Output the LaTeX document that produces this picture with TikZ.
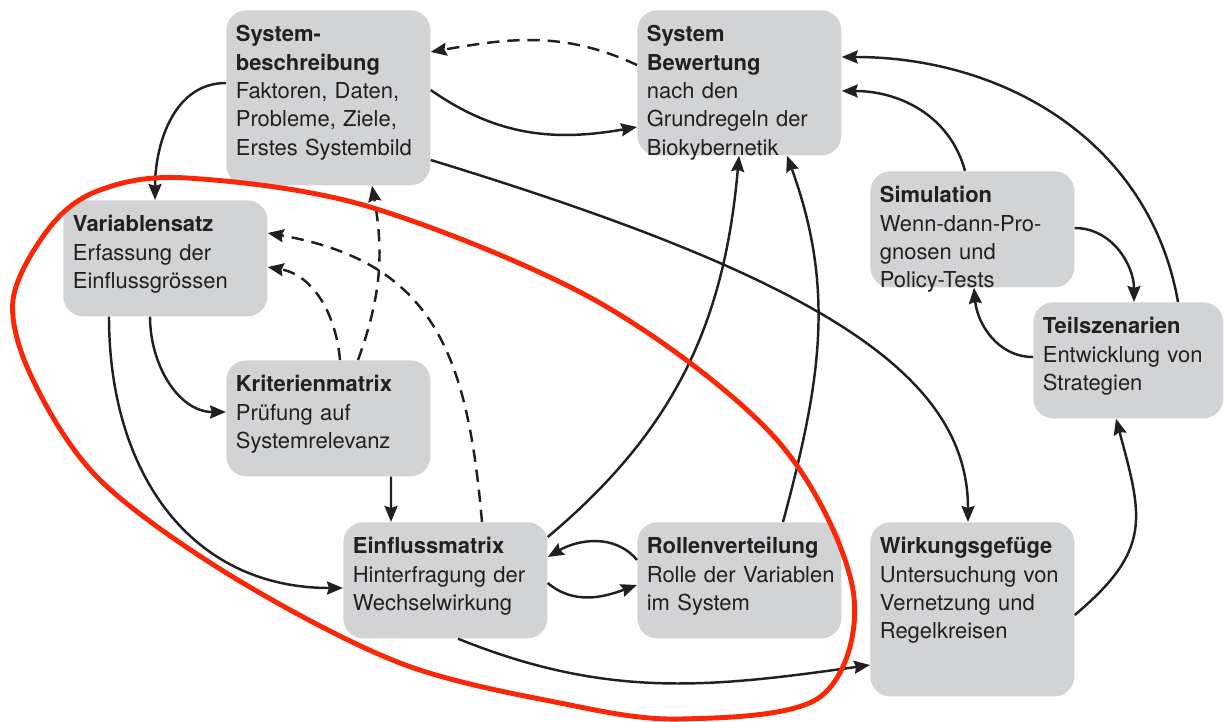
\documentclass[tikz,border=0pt]{standalone}
\usepackage{fontspec}
\setmainfont{TeX Gyre Heros}
\usetikzlibrary{arrows.meta}
\definecolor{boxgray}{RGB}{210,211,213}
\definecolor{ink}{RGB}{35,31,32}
\definecolor{ringred}{RGB}{250,38,8}
\hyphenpenalty=10000
\exhyphenpenalty=10000
\tikzset{
  stage/.style={fill=boxgray, rounded corners=0.4cm, anchor=north west, text width=3.7cm,
    inner xsep=0.19cm, inner ysep=0.3cm, text height=0.33cm, align=left, text=ink,
    font=\fontsize{12.5}{16.1}\selectfont},
  flow/.style={draw=ink, line width=1.4pt, -{Stealth[length=3.2mm,width=2.6mm,inset=0.4mm]}},
  hint/.style={flow, dash pattern=on 7pt off 4.5pt}
}

\begin{document}
\begin{tikzpicture}
        \useasboundingbox (0,0) rectangle (24.48,-14.44);

        % Top row
        \node[stage, text depth=2.57cm] (sb) at (4.52,-0.2) {\textbf{System-}\\\textbf{beschreibung}\\Faktoren, Daten,\\Probleme, Ziele,\\Erstes~Systembild};
        \node[stage, text depth=1.97cm] (bew) at (12.74,-0.2) {\textbf{System}\\\textbf{Bewertung}\\nach den\\Grundregeln~der\\Biokybernetik};
        \node[stage, text depth=1.39cm] (vs) at (1.26,-4.0) {\textbf{Variablensatz}\\Erfassung der\\Einflussgrössen};
        \node[stage, text depth=1.39cm] (sim) at (17.4,-3.42) {\textbf{Simulation}\\Wenn-dann-Pro-\\gnosen und\\Policy-Tests};
        \node[stage, text depth=1.39cm, text width=3.42cm] (ts) at (20.66,-6.04) {\textbf{Teilszenarien}\\Entwicklung~von\\Strategien};

        % Middle and bottom row
        \node[stage, text depth=1.39cm] (km) at (4.52,-7.2) {\textbf{Kriterienmatrix}\\Prüfung auf\\Systemrelevanz};
        \node[stage, text depth=1.39cm] (em) at (6.86,-10.44) {\textbf{Einflussmatrix}\\Hinterfragung~der\\Wechselwirkung};
        \node[stage, text depth=1.39cm] (rv) at (12.74,-10.44) {\textbf{Rollenverteilung}\\Rolle~der~Variablen\\im System};
        \node[stage, text depth=2.55cm] (wg) at (17.4,-10.44) {\textbf{Wirkungsgefüge}\\Untersuchung~von\\Vernetzung~und\\Regelkreisen};

        % From Systembeschreibung
        \draw[flow] ([yshift=-1.46cm]sb.north west) to[out=180,in=90] ([xshift=1.84cm]vs.north west);
        \draw[flow] ([yshift=-1.6cm]sb.north east) to[out=-35,in=190] ([yshift=-2.34cm]bew.north west);
        \draw[flow] ([yshift=-3.0cm]sb.north east) .. controls +(-17:8cm) and +(90:3cm) .. ([xshift=1.96cm]wg.north west);
        \draw[hint] ([yshift=-1.1cm]bew.north west) to[out=155,in=10] ([yshift=-0.84cm]sb.north east);

        % Variablensatz
        \draw[flow] ([xshift=1.74cm]vs.south west) to[out=-90,in=180] ([yshift=-1.04cm]km.north west);
        \draw[flow] ([xshift=0.92cm]vs.south west) to[out=-90,in=180,looseness=1.1] ([yshift=-1.32cm]em.north west);

        % Kriterienmatrix
        \draw[flow] ([xshift=3.3cm]km.south west) -- ([xshift=0.96cm]em.north west);
        \draw[hint] ([xshift=2.64cm]km.north west) to[out=70,in=-80] ([xshift=2.92cm]sb.south west);
        \draw[hint] ([xshift=2.28cm]km.north west) to[out=95,in=-10] ([yshift=-1.34cm]vs.north east);

        % Einflussmatrix
        \draw[hint] ([xshift=2.78cm]em.north west) to[out=95,in=-10,looseness=1.2] ([yshift=-0.66cm]vs.north east);
        \draw[flow] ([yshift=-0.3cm]em.north east) to[out=40,in=-95] ([xshift=2.04cm]bew.south west);
        \draw[flow] ([yshift=-1.22cm]em.north east) to[out=-40,in=200] ([yshift=-1.26cm]rv.north west);
        \draw[flow] ([xshift=2.3cm]em.south west) to[out=-22,in=188] ([yshift=-2.86cm]wg.north west);

        % Rollenverteilung
        \draw[flow] ([xshift=2.92cm]rv.north west) to[out=75,in=-70] ([xshift=3.0cm]bew.south west);
        \draw[flow] ([yshift=-0.76cm]rv.north west) to[out=130,in=30] ([yshift=-0.7cm]em.north east);

        % Right loop
        \draw[flow] ([yshift=-1.86cm]wg.north east) to[out=40,in=-75,looseness=1.3] ([xshift=1.66cm]ts.south west);
        \draw[flow] ([yshift=-1.1cm]ts.north west) to[out=180,in=-85] ([xshift=2.08cm]sim.south west);
        \draw[flow] ([yshift=-1.14cm]sim.north east) to[out=0,in=90] ([xshift=2.02cm]ts.north west);
        \draw[flow] ([xshift=1.9cm]sim.north west) to[out=105,in=0] ([yshift=-1.62cm]bew.north east);
        \draw[flow] ([xshift=2.9cm]ts.north west) to[out=100,in=0] ([yshift=-0.94cm]bew.north east);

        % Red ring
        \draw[ringred, line width=2.8pt] plot[smooth cycle, tension=0.55] coordinates {
          (0.26,-6.0) (1.0,-4.54) (2.0,-3.8) (3.74,-3.56) (7.4,-4.14) (12.0,-6.06)
          (15.54,-8.8) (17.06,-11.8) (16.4,-13.94) (13.6,-14.38) (11.2,-14.06)
          (8.0,-13.26) (4.66,-11.54) (2.0,-9.6) (0.66,-7.6)};
      \end{tikzpicture}
\end{document}
